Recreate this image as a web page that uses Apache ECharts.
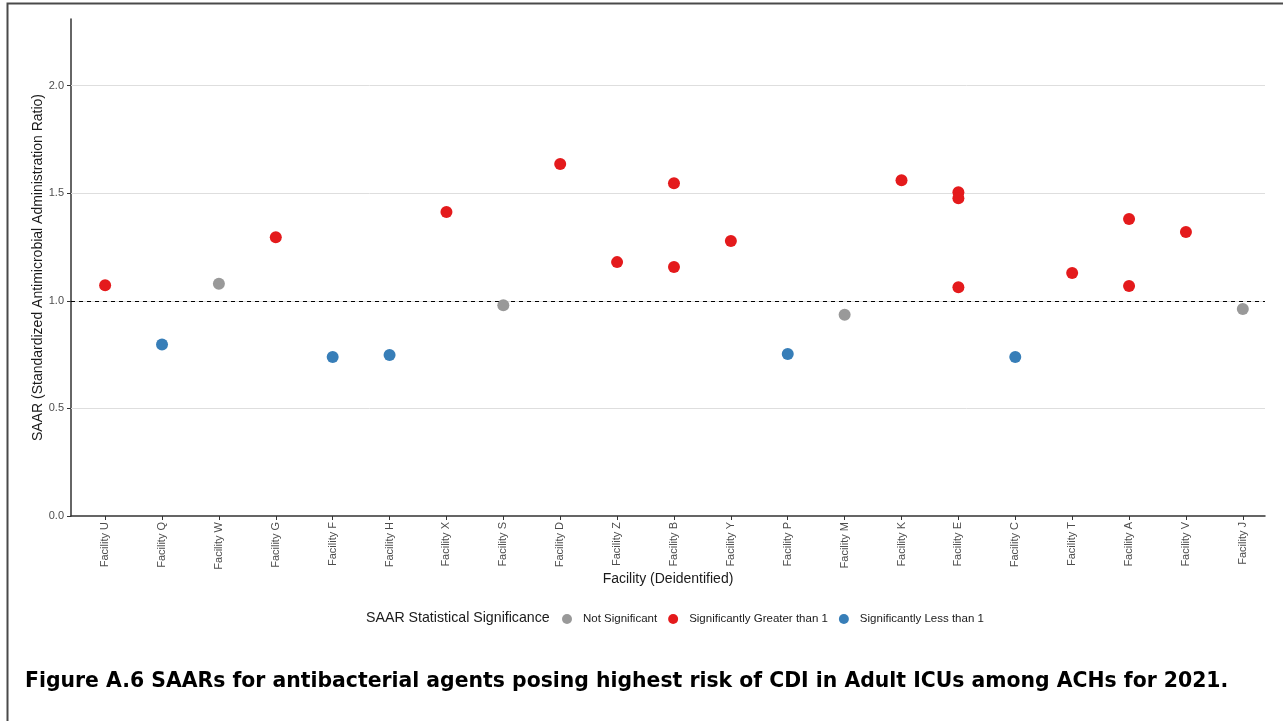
<!DOCTYPE html>
<html>
<head>
<meta charset="utf-8">
<script src="https://cdn.jsdelivr.net/npm/echarts@6/dist/echarts.min.js"></script>
<style>
  html, body { margin: 0; padding: 0; background: #fff; }
  #chart { width: 1283px; height: 721px; }
</style>
</head>
<body>
<div id="chart"></div>
<script>
// ---- Data ----
const facilities = ["Facility U","Facility Q","Facility W","Facility G","Facility F","Facility H","Facility X","Facility S","Facility D","Facility Z","Facility B","Facility Y","Facility P","Facility M","Facility K","Facility E","Facility C","Facility T","Facility A","Facility V","Facility J"];
const yTicks = [0, 0.5, 1.0, 1.5, 2.0];
const notSignificant = [["Facility W",1.08],["Facility S",0.98],["Facility M",0.935],["Facility J",0.962]];
const greaterThan1 = [["Facility U",1.073],["Facility G",1.296],["Facility X",1.413],["Facility D",1.636],["Facility Z",1.180],["Facility B",1.547],["Facility B",1.157],["Facility Y",1.278],["Facility K",1.561],["Facility E",1.505],["Facility E",1.477],["Facility E",1.063],["Facility T",1.129],["Facility A",1.380],["Facility A",1.069],["Facility V",1.320]];
const lessThan1 = [["Facility Q",0.797],["Facility F",0.739],["Facility H",0.748],["Facility P",0.753],["Facility C",0.739]];
const seriesNames = ["Not Significant","Significantly Greater than 1","Significantly Less than 1"];
const seriesColors = ["#999999","#E41A1C","#377EB8"];

const toXY = arr => arr.map(d => [facilities.indexOf(d[0]), d[1]]);
const xIdx = facilities.map((_, i) => i);
const FONT = "Liberation Sans, Arial, sans-serif";

const chart = echarts.init(document.getElementById('chart'), null, { renderer: 'canvas' });
chart.setOption({
  animation: false,
  backgroundColor: '#ffffff',
  textStyle: { fontFamily: FONT },
  title: [
    { text: 'SAAR Statistical Significance', left: 366, top: 611, padding: 0,
      textStyle: { fontFamily: FONT, fontSize: 14.2, fontWeight: 'normal', color: '#1a1a1a' } },
    { text: 'Figure A.6 SAARs for antibacterial agents posing highest risk of CDI in Adult ICUs among ACHs for 2021.',
      left: 25, top: 672, padding: 0,
      textStyle: { fontFamily: 'DejaVu Sans, sans-serif', fontSize: 20.4, fontWeight: 'bold', color: '#000' } }
  ],
  graphic: [
    { type: 'rect', left: 5, top: 1, silent: true,
      shape: { x: 0, y: 0, width: 1400, height: 800 },
      style: { fill: 'none', stroke: '#4a4a4a', lineWidth: 2 } }
  ],
  legend: {
    data: seriesNames,
    left: 562, top: 613, padding: 0,
    icon: 'circle',
    itemWidth: 22, itemHeight: 10,
    itemGap: 11,
    textStyle: { fontFamily: FONT, fontSize: 11.5, color: '#1a1a1a' }
  },
  grid: { left: 71, right: 18, top: 19, bottom: 205, containLabel: false },
  xAxis: {
    type: 'value',
    min: -0.6, max: 20.39,
    name: 'Facility (Deidentified)',
    nameLocation: 'middle', nameGap: 56, nameMoveOverlap: false,
    nameTextStyle: { fontFamily: FONT, fontSize: 14, color: '#1a1a1a' },
    axisLine: { show: true, onZero: false, lineStyle: { color: '#333', width: 1.5 } },
    axisTick: { show: true, customValues: xIdx, length: 4, lineStyle: { color: '#333' } },
    axisLabel: { customValues: xIdx, rotate: 90, margin: 6, fontSize: 11, color: '#4d4d4d',
      formatter: v => facilities[Math.round(v)] },
    splitLine: { show: false }
  },
  yAxis: {
    type: 'value',
    min: 0, max: 2.31,
    name: 'SAAR (Standardized Antimicrobial Administration Ratio)',
    nameLocation: 'middle', nameGap: 26, nameMoveOverlap: false,
    nameTextStyle: { fontFamily: FONT, fontSize: 14, color: '#1a1a1a' },
    axisLine: { show: true, onZero: false, lineStyle: { color: '#333', width: 1.5 } },
    axisTick: { show: true, customValues: yTicks, length: 4, lineStyle: { color: '#333' } },
    axisLabel: { customValues: yTicks, margin: 7, fontSize: 11, color: '#4d4d4d',
      formatter: v => v.toFixed(1) },
    splitLine: { show: false }
  },
  series: [
    { name: seriesNames[0], type: 'scatter', symbolSize: 12, z: 3,
      itemStyle: { color: seriesColors[0], opacity: 1 },
      data: toXY(notSignificant),
      markLine: {
        z: 1, silent: true, symbol: ['none','none'], label: { show: false },
        animation: false,
        data: [
          { yAxis: 0.5, lineStyle: { color: '#dedede', width: 1, type: 'solid' } },
          { yAxis: 1.0, lineStyle: { color: '#dedede', width: 1, type: 'solid' } },
          { yAxis: 1.5, lineStyle: { color: '#dedede', width: 1, type: 'solid' } },
          { yAxis: 2.0, lineStyle: { color: '#dedede', width: 1, type: 'solid' } },
          { yAxis: 1.0, lineStyle: { color: '#000', width: 1, type: [4, 4] } }
        ]
      }
    },
    { name: seriesNames[1], type: 'scatter', symbolSize: 12, z: 3,
      itemStyle: { color: seriesColors[1], opacity: 1 },
      data: toXY(greaterThan1) },
    { name: seriesNames[2], type: 'scatter', symbolSize: 12, z: 3,
      itemStyle: { color: seriesColors[2], opacity: 1 },
      data: toXY(lessThan1) }
  ]
});
</script>
</body>
</html>
